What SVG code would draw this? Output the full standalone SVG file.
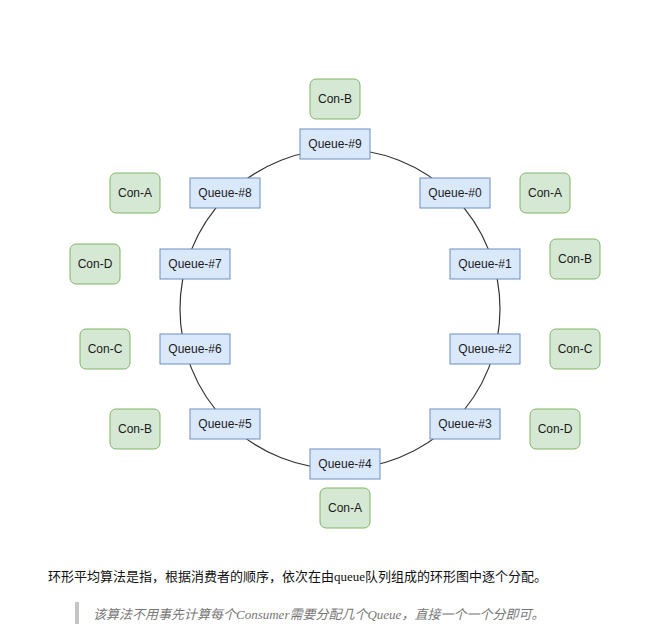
<svg xmlns="http://www.w3.org/2000/svg" width="671" height="642" viewBox="0 0 671 642">
<style>
.q{fill:#dae8fc;stroke:#6c8ebf;stroke-width:1}
.c{fill:#d5e8d4;stroke:#82b366;stroke-width:1}
.t{font-family:"Liberation Sans",Arial,sans-serif;font-size:12px;fill:#1a1a1a;text-anchor:middle;dominant-baseline:central}
</style>
<rect width="671" height="642" fill="#fff"/>
<g id="connectors"><circle cx="340" cy="309" r="160" fill="none" stroke="#333" stroke-width="1.2"/></g>
<g id="q9"><rect class="q" x="300" y="129" width="70" height="30"/><text class="t" x="335" y="144">Queue-#9</text></g>
<g id="q0"><rect class="q" x="420" y="178" width="70" height="30"/><text class="t" x="455" y="193">Queue-#0</text></g>
<g id="q1"><rect class="q" x="450" y="249" width="70" height="30"/><text class="t" x="485" y="264">Queue-#1</text></g>
<g id="q2"><rect class="q" x="450" y="334" width="70" height="30"/><text class="t" x="485" y="349">Queue-#2</text></g>
<g id="q3"><rect class="q" x="430" y="409" width="70" height="30"/><text class="t" x="465" y="424">Queue-#3</text></g>
<g id="q4"><rect class="q" x="310" y="449" width="70" height="30"/><text class="t" x="345" y="464">Queue-#4</text></g>
<g id="q5"><rect class="q" x="190" y="409" width="70" height="30"/><text class="t" x="225" y="424">Queue-#5</text></g>
<g id="q6"><rect class="q" x="160" y="334" width="70" height="30"/><text class="t" x="195" y="349">Queue-#6</text></g>
<g id="q7"><rect class="q" x="160" y="249" width="70" height="30"/><text class="t" x="195" y="264">Queue-#7</text></g>
<g id="q8"><rect class="q" x="190" y="178" width="70" height="30"/><text class="t" x="225" y="193">Queue-#8</text></g>
<g id="c9"><rect class="c" x="310" y="79" width="50" height="40" rx="6"/><text class="t" x="335" y="99">Con-B</text></g>
<g id="c0"><rect class="c" x="520" y="173" width="50" height="40" rx="6"/><text class="t" x="545" y="193">Con-A</text></g>
<g id="c1"><rect class="c" x="550" y="239" width="50" height="40" rx="6"/><text class="t" x="575" y="259">Con-B</text></g>
<g id="c2"><rect class="c" x="550" y="329" width="50" height="40" rx="6"/><text class="t" x="575" y="349">Con-C</text></g>
<g id="c3"><rect class="c" x="530" y="409" width="50" height="40" rx="6"/><text class="t" x="555" y="429">Con-D</text></g>
<g id="c4"><rect class="c" x="320" y="488" width="50" height="40" rx="6"/><text class="t" x="345" y="508">Con-A</text></g>
<g id="c5"><rect class="c" x="110" y="409" width="50" height="40" rx="6"/><text class="t" x="135" y="429">Con-B</text></g>
<g id="c6"><rect class="c" x="80" y="329" width="50" height="40" rx="6"/><text class="t" x="105" y="349">Con-C</text></g>
<g id="c7"><rect class="c" x="70" y="244" width="50" height="40" rx="6"/><text class="t" x="95" y="264">Con-D</text></g>
<g id="c8"><rect class="c" x="110" y="173" width="50" height="40" rx="6"/><text class="t" x="135" y="193">Con-A</text></g>
<text x="48" y="581" font-family="'Liberation Serif','Noto Sans CJK SC',serif" font-size="13" fill="#111">环形平均算法是指，根据消费者的顺序，依次在由queue队列组成的环形图中逐个分配。</text>
<rect x="75" y="602" width="4" height="22" fill="#c4c4c4"/>
<text x="93" y="619" font-family="'Liberation Serif','Noto Sans CJK SC',serif" font-size="13" font-style="italic" fill="#777">该算法不用事先计算每个Consumer需要分配几个Queue，直接一个一个分即可。</text>
</svg>
